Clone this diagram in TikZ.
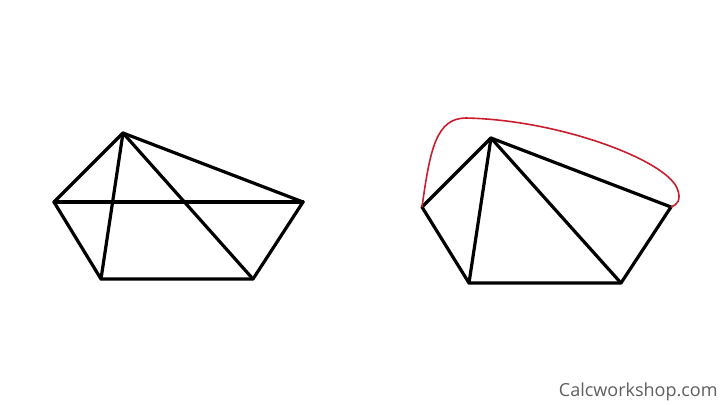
\documentclass[tikz,border=0pt]{standalone}
\usepackage{fontspec}
\setmainfont{Open Sans}
\definecolor{curvered}{RGB}{200,30,45}
\definecolor{credit}{RGB}{95,95,95}

\begin{document}
\begin{tikzpicture}[x=0.5pt, y=-0.5pt, edge/.style={line width=1.6pt, line cap=round, line join=round}]
    % Page frame
    \useasboundingbox (0,0) rectangle (720,404);

    % Left pentagon with its diagonals
    \coordinate (A1) at (123,133);
    \coordinate (B1) at (303,202);
    \coordinate (C1) at (253,279);
    \coordinate (D1) at (101,279);
    \coordinate (E1) at (54,202);
    \draw[edge] (A1) -- (B1) -- (C1) -- (D1) -- (E1) -- cycle;
    \foreach \from/\to in {A1/D1, A1/C1, E1/B1} {
        \draw[edge] (\from) -- (\to); % Diagonals
    }

    % Right pentagon, triangulated from the top vertex
    \coordinate (A2) at (491,138);
    \coordinate (B2) at (671,207);
    \coordinate (C2) at (621,283);
    \coordinate (D2) at (469,283);
    \coordinate (E2) at (422,207);
    \draw[edge] (A2) -- (B2) -- (C2) -- (D2) -- (E2) -- cycle;
    \foreach \from/\to in {A2/D2, A2/C2} {
        \draw[edge] (\from) -- (\to); % Diagonals
    }

    % Red arc over the top
    \draw[curvered, line width=0.8pt] (E2) .. controls (430,150) and (436,118) .. (466,118)
        .. controls (560,120) and (665,160) .. (677,188)
        .. controls (682,200) and (677,205) .. (B2);

    % Credit line
    \node[anchor=base east, text=credit, font=\fontsize{9}{10}\selectfont, inner sep=0pt] (credit) at (718,396) {Calcworkshop.com};
\end{tikzpicture}
\end{document}
